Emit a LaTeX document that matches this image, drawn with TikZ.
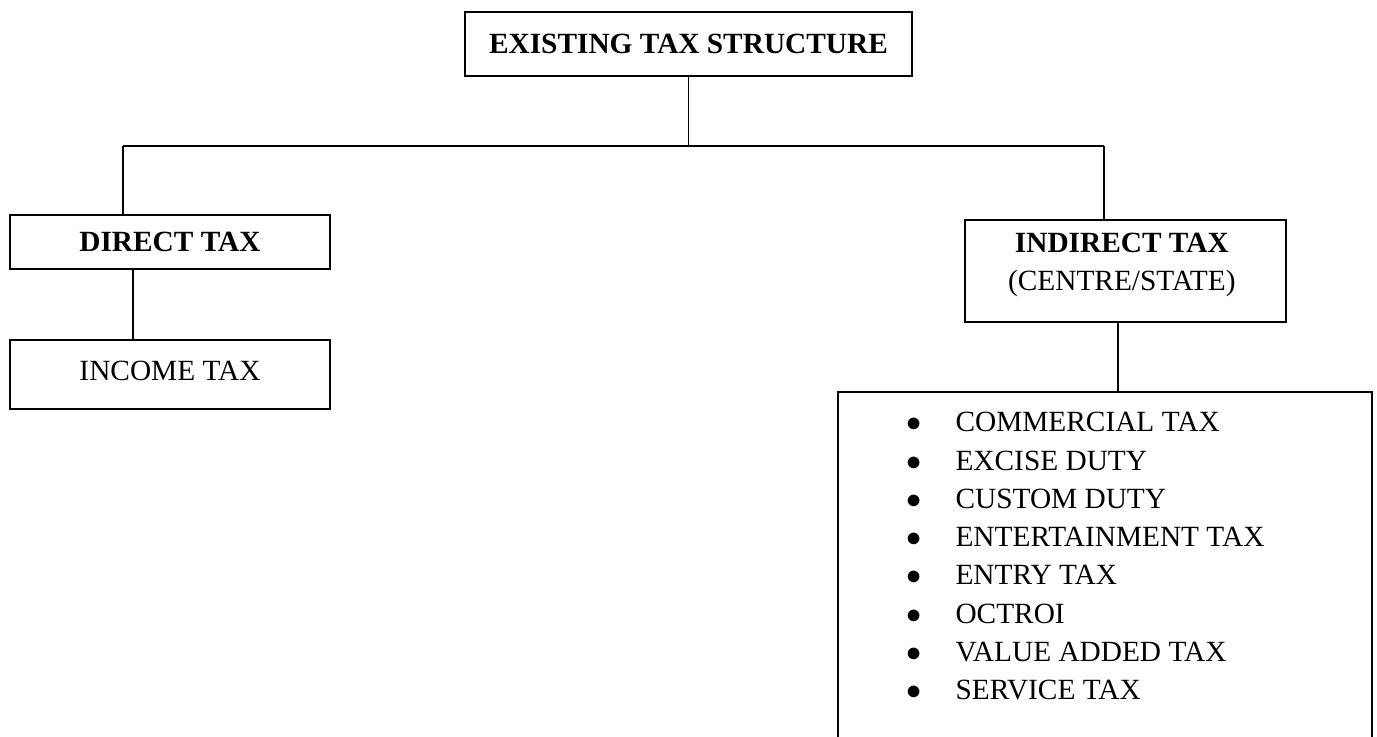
\documentclass[tikz,border=0pt]{standalone}
\usepackage{fontspec}
\setmainfont{Liberation Serif}
\usepackage{tikz}
\tikzstyle{box}=[draw=black, line width=0.9pt, inner sep=0pt, align=center]
\tikzstyle{link}=[draw=black, line width=0.9pt]
\tikzstyle{txt}=[inner sep=0pt, align=left]
\newcommand{\itm}[1]{\makebox[28pt][l]{$\bullet$}#1}

\begin{document}
\fontsize{16.7}{21.8}\selectfont
\begin{tikzpicture}[x=0.02cm, y=-0.02cm]
		   \useasboundingbox (0, 0) rectangle (1377, 737);
		   \node[box, minimum width=8.94cm, minimum height=1.28cm] (top) at (688.5, 44) {\textbf{EXISTING TAX STRUCTURE}};
		   \node[box, minimum width=6.4cm, minimum height=1.08cm] (direct) at (170, 242) {\textbf{DIRECT TAX}};
		   \node[box, minimum width=6.4cm, minimum height=1.38cm] (income) at (170, 374.5) {\raisebox{0pt}[\height][\dimexpr\depth+4pt\relax]{INCOME TAX}};
		   \node[box, minimum width=6.42cm, minimum height=2.04cm] (indirect) at (1125.5, 271) {
			   \raisebox{0pt}[\height][\dimexpr\depth+8pt\relax]{\begin{tabular}{@{}c@{}}\textbf{INDIRECT TAX}\\(CENTRE/STATE)\end{tabular}}
		   };
		   % open box of the indirect taxes
		   \coordinate (listtop) at (1118, 392);
		   \draw[link] (838, 745) -- (838, 392) -- (1372, 392) -- (1372, 745);
		   \node[txt, anchor=north west] (list) at (906, 412) {
			   \itm{COMMERCIAL TAX}\\
			   \itm{EXCISE DUTY}\\
			   \itm{CUSTOM DUTY}\\
			   \itm{ENTERTAINMENT TAX}\\
			   \itm{ENTRY TAX}\\
			   \itm{OCTROI}\\
			   \itm{VALUE ADDED TAX}\\
			   \itm{SERVICE TAX}
		   };
		   % connectors
		   \coordinate (busL) at (123, 146);
		   \coordinate (busR) at (1104, 146);
		   \coordinate (dstem) at (133, 300);
		   \draw[link] (top.south) -- (top.south |- busL);
		   \draw[link] (busL) -- (busR);
		   \draw[link] (busL) -- (busL |- direct.north);
		   \draw[link] (busR) -- (busR |- indirect.north);
		   \draw[link] (dstem |- direct.south) -- (dstem |- income.north);
		   \draw[link] (indirect.south -| listtop) -- (listtop);
	   \end{tikzpicture}
\end{document}
